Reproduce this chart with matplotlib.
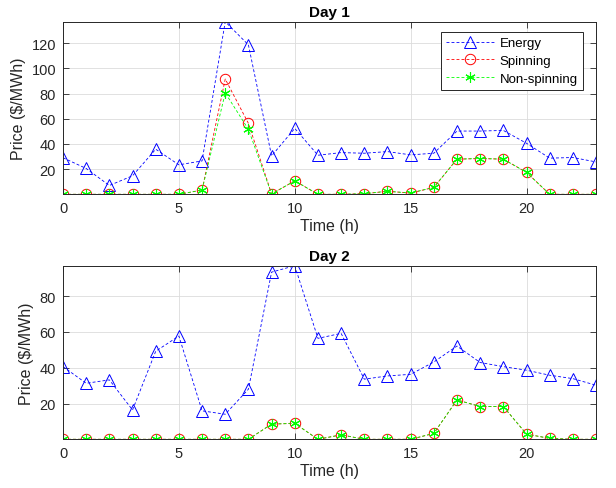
import matplotlib
matplotlib.use("Agg")
import matplotlib.pyplot as plt
import numpy as np

plt.rcParams['font.family'] = ['Liberation Sans', 'DejaVu Sans']

hours = list(range(24))

day1_energy = [29, 20.5, 7, 14.7, 35.8, 23.4, 26.5, 137, 118.6, 30.5, 52.3, 31,
               33.1, 32.6, 33.9, 31.3, 32.6, 50.2, 50.2, 50.7, 40.5, 28.7, 29.2, 25.7]
day1_spin = [0, 0, 0, 0, 0, 0, 3.4, 91.5, 56.3, 0.3, 10.7, 0,
             0, 0.5, 2.4, 1, 5.5, 27.9, 28.4, 27.9, 17.4, 0, 0, 0]
day1_nonspin = [0, 0, 0, 0, 0, 0, 3.4, 80.5, 51.5, 0.3, 10.7, 0,
                0, 0.5, 2.4, 1, 5.5, 27.9, 28.4, 27.9, 17.4, 0, 0, 0]

day2_energy = [40.6, 31.3, 33.2, 16.4, 49.2, 57.7, 15.9, 14.0, 28, 93.4, 97, 56.4,
               59.2, 33.6, 35.4, 36.3, 43.2, 52.1, 42.9, 40.6, 38.6, 35.8, 33.9, 30.2]
day2_spin = [0, 0, 0, 0, 0, 0, 0, 0, 0, 8.5, 8.9, 0,
             2.5, 0, 0, 0, 3.3, 22, 18.3, 18.3, 2.9, 0.5, 0, 0]
day2_nonspin = list(day2_spin)

titles = ["Day 1", "Day 2"]
yticks_list = [[20, 40, 60, 80, 100, 120], [20, 40, 60, 80]]
xticks = [0, 5, 10, 15, 20]

fig = plt.figure(figsize=(6.16, 4.89), dpi=100)
ax1 = fig.add_axes([0.1023, 0.6006, 0.8653, 0.353])
ax2 = fig.add_axes([0.1023, 0.0996, 0.8653, 0.355])

dash = (0, (3.5, 2.5))
axc = '#262626'
datasets = [(day1_energy, day1_spin, day1_nonspin), (day2_energy, day2_spin, day2_nonspin)]

for ax, (en, sp, ns), title, yt in zip([ax1, ax2], datasets, titles, yticks_list):
    ax.plot(hours, en, color='#0000ff', linestyle=dash, linewidth=0.6,
            marker='^', markersize=9, markerfacecolor='none', markeredgewidth=0.7,
            label='Energy')
    ax.plot(hours, sp, color='#ff0000', linestyle=dash, linewidth=0.6,
            marker='o', markersize=7.5, markerfacecolor='none', markeredgewidth=0.7,
            label='Spinning')
    ax.plot(hours, ns, color='#00ff00', linestyle=dash, linewidth=0.6,
            marker=(6, 2, 0), markersize=7.5, markeredgewidth=0.8,
            label='Non-spinning')
    ax.set_xlim(0, 23)
    ax.set_ylim(0, max(en))
    ax.set_xticks(xticks)
    ax.set_yticks(yt)
    ax.grid(True, color='#dcdcdc', linewidth=0.6)
    ax.set_axisbelow(True)
    ax.tick_params(direction='in', top=True, right=True, labelsize=10.5,
                   colors=axc, length=4, width=0.6, pad=5)
    for s in ax.spines.values():
        s.set_color(axc)
        s.set_linewidth(0.7)
    ax.set_title(title, fontsize=11, fontweight='bold', pad=4)
    ax.set_xlabel('Time (h)', fontsize=11.5, color=axc, labelpad=2)
    ax.set_ylabel('Price ($/MWh)', fontsize=11.5, color=axc, labelpad=4)

leg = ax1.legend(loc='upper right', bbox_to_anchor=(0.976, 0.942), borderaxespad=0,
                 fontsize=9.5, frameon=True, fancybox=False, edgecolor=axc, framealpha=1,
                 handlelength=3.6, borderpad=0.4, labelspacing=0.42, handletextpad=0.45)
leg.get_frame().set_linewidth(0.7)

fig.savefig('out.png', dpi=100)
